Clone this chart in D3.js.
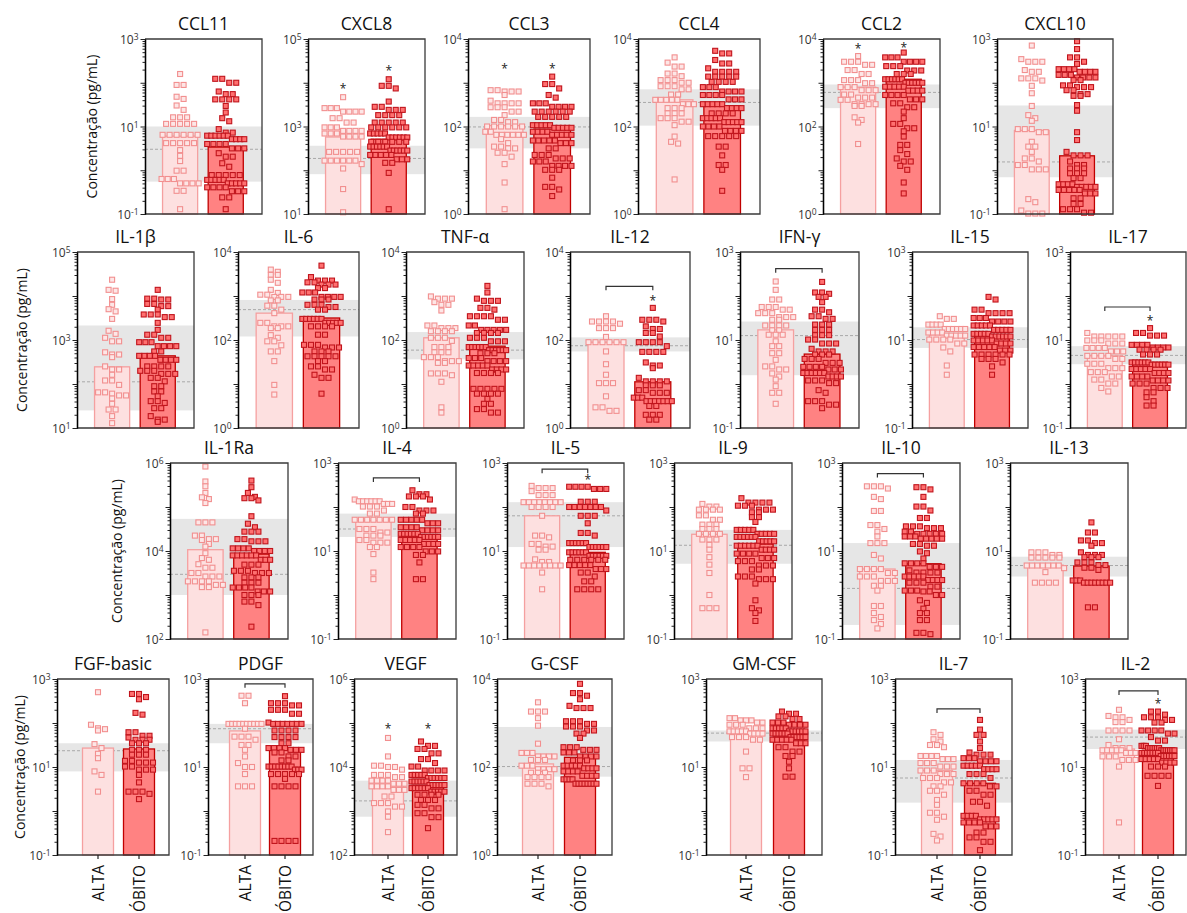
<!DOCTYPE html>
<html><head><meta charset="utf-8">
<script src="https://cdn.jsdelivr.net/npm/d3@7"></script>
<style>body{margin:0;background:#fff}svg{display:block}text{font-family:'Open Sans',sans-serif}</style>
</head><body><svg id="c" width="1187" height="913"></svg>
<script>
// ---- DATA (all concentrations given as log10 pg/mL; points as [log10 value, count]) ----
const panelNames = ["CCL11","CXCL8","CCL3","CCL4","CCL2","CXCL10","IL-1β","IL-6","TNF-α","IL-12","IFN-γ","IL-15","IL-17","IL-1Ra","IL-4","IL-5","IL-9","IL-10","IL-13","FGF-basic","PDGF","VEGF","G-CSF","GM-CSF","IL-7","IL-2"];
const groups = ["ALTA","ÓBITO"];
const decadeLo = [-1,1,0,0,0,-1, 1,0,0,0,-1,-1,-1, 2,-1,-1,-1,-1,-1, -1,-1,2,0,-1,-1,-1];
const decadeHi = [3,5,4,4,4,3, 5,4,4,4,3,3,3, 6,3,3,3,3,3, 3,3,6,4,3,3,3];
const barAlta  = [0.78,2.76,2.02,2.61,2.90,0.91, 2.39,2.61,2.05,1.95,1.23,1.12,0.64, 4.03,1.69,1.80,1.38,0.59,0.68, 1.43,1.82,3.58,2.07,1.76,0.92,1.41];
const barObito = [0.53,2.71,1.94,2.47,3.08,0.33, 2.64,2.50,1.86,1.05,0.68,1.11,0.49, 3.93,1.37,0.97,1.16,0.71,0.66, 1.41,1.43,3.56,2.22,1.68,0.63,1.38];
const refLow    = [-0.26,1.91,1.50,2.02,2.42,-0.16, 1.40,2.08,1.56,1.74,0.20,0.82,0.45, 3.00,1.32,1.09,0.71,-0.68,0.42, 0.90,1.54,2.87,1.78,1.58,0.19,1.41];
const refHigh   = [1.00,2.56,2.22,2.85,2.96,1.48, 3.33,2.91,2.18,2.06,1.42,1.29,0.86, 4.73,1.85,2.11,1.48,1.18,0.87, 1.54,1.98,3.69,2.91,1.83,1.16,1.85];
const refMedian = [0.48,2.27,1.99,2.55,2.78,0.19, 2.05,2.69,1.77,1.87,1.10,1.01,0.65, 3.47,1.50,1.80,1.13,0.15,0.67, 1.37,1.87,3.23,2.01,1.77,0.75,1.68];
const starAlta  = [null,3.90,3.35,null,3.81,null, null,null,null,null,null,null,null, null,null,null,null,null,null, null,null,4.92,null,null,null,null];
const starObito = [null,4.31,3.37,null,3.84,null, null,null,null,2.93,null,null,1.48, null,null,2.66,null,null,null, null,null,4.92,null,null,null,2.47];
const bracketAt = [null,null,null,null,null,null, null,null,null,3.22,2.62,null,1.75, null,2.66,2.86,null,2.76,null, null,2.89,null,null,null,2.32,2.73];

const ccl11_alta=[[2.20,1],[1.95,2],[1.68,1],[1.63,1],[1.48,1],[1.38,1],[1.21,3],[1.06,5],[0.81,6],[0.62,5],[0.46,1],[0.33,1],[0.21,1],[-0.01,2],[-0.20,3],[-0.30,4],[-0.47,2],[-0.89,1]];
const ccl11_obito=[[2.09,2],[2.00,2],[1.80,1],[1.74,2],[1.62,4],[1.47,1],[1.32,1],[1.19,1],[1.12,1],[0.94,1],[0.86,2],[0.79,6],[0.71,4],[0.60,4],[0.50,3],[0.39,1],[0.31,2],[0.16,1],[0.08,1],[-0.11,5],[-0.22,5],[-0.30,5],[-0.39,4],[-0.48,3],[-0.62,2],[-0.89,1]];
const cxcl8_alta=[[3.67,1],[3.42,3],[3.34,4],[3.19,2],[3.09,2],[2.98,3],[2.90,4],[2.84,3],[2.77,4],[2.42,5],[2.22,6],[2.14,1],[2.04,1],[1.57,1],[1.04,1]];
const cxcl8_obito=[[4.08,1],[3.93,2],[3.87,1],[3.57,1],[3.45,2],[3.38,3],[3.26,4],[3.09,5],[2.98,6],[2.84,5],[2.75,6],[2.65,6],[2.54,6],[2.45,6],[2.35,5],[2.25,3],[2.17,2],[1.94,1],[1.11,1]];
const ccl3_alta=[[2.83,2],[2.80,3],[2.72,1],[2.59,1],[2.53,4],[2.44,3],[2.34,2],[2.26,1],[2.15,2],[2.10,2],[2.00,6],[1.88,2],[1.81,6],[1.71,1],[1.62,1],[1.54,2],[1.50,2],[1.40,2],[1.31,1],[1.14,1],[0.72,1],[0.11,1]];
const ccl3_obito=[[3.14,1],[2.97,2],[2.87,1],[2.72,1],[2.66,1],[2.53,3],[2.45,4],[2.34,6],[2.22,5],[2.03,5],[1.97,5],[1.88,4],[1.81,5],[1.68,5],[1.62,3],[1.50,2],[1.35,3],[1.27,3],[1.20,3],[1.10,4],[1.01,3],[0.83,1],[0.62,2],[0.56,1],[0.41,1]];
const ccl4_alta=[[3.58,1],[3.46,1],[3.37,2],[3.21,2],[3.15,1],[3.06,3],[3.00,2],[2.92,3],[2.85,2],[2.73,2],[2.61,5],[2.51,3],[2.42,3],[2.30,3],[2.19,3],[2.11,2],[2.03,1],[1.77,1],[1.65,1],[1.61,1],[0.79,1]];
const ccl4_obito=[[3.73,1],[3.67,2],[3.52,1],[3.44,2],[3.33,1],[3.25,4],[3.14,5],[3.02,4],[2.90,3],[2.80,4],[2.72,4],[2.62,3],[2.51,5],[2.42,4],[2.30,4],[2.19,5],[2.10,5],[2.00,4],[1.90,4],[1.78,5],[1.54,2],[1.34,1],[1.12,2],[1.01,1],[0.53,1]];
const ccl2_alta=[[3.61,1],[3.48,3],[3.41,2],[3.29,2],[3.20,2],[3.06,3],[2.99,2],[2.90,3],[2.83,3],[2.73,2],[2.66,3],[2.61,2],[2.51,4],[2.47,2],[2.21,1],[2.15,1],[2.09,1],[1.60,1]];
const ccl2_obito=[[3.69,1],[3.58,3],[3.48,4],[3.38,3],[3.28,3],[3.20,3],[3.08,6],[3.00,6],[2.91,5],[2.82,4],[2.72,4],[2.62,3],[2.53,2],[2.44,2],[2.34,1],[2.19,1],[2.06,2],[1.96,2],[1.89,1],[1.77,1],[1.58,2],[1.46,1],[1.37,1],[1.27,1],[1.20,2],[1.10,1],[1.01,1],[0.72,1],[0.47,1]];
const cxcl10_alta=[[2.85,1],[2.54,1],[2.48,3],[2.29,1],[2.25,2],[2.10,3],[2.05,1],[1.93,1],[1.76,1],[1.47,1],[1.26,1],[1.19,1],[1.13,1],[0.94,3],[0.87,2],[0.65,1],[0.54,2],[0.42,1],[0.27,2],[0.20,1],[0.12,2],[0.02,3],[-0.66,1],[-0.73,1],[-0.92,1],[-0.99,3]];
const cxcl10_obito=[[2.95,1],[2.77,1],[2.58,2],[2.48,1],[2.43,1],[2.31,4],[2.25,4],[2.18,3],[2.12,4],[2.06,2],[1.94,2],[1.90,3],[1.83,2],[1.74,2],[1.70,2],[1.49,1],[1.36,1],[0.87,1],[0.69,1],[0.42,1],[0.34,3],[0.20,1],[0.12,2],[0.04,3],[-0.07,3],[-0.18,2],[-0.32,4],[-0.38,5],[-0.45,5],[-0.53,3],[-0.64,2],[-0.77,2],[-0.89,3],[-0.97,2]];
const il1b_alta=[[4.37,1],[4.14,1],[4.12,1],[3.93,1],[3.80,1],[3.70,1],[3.65,1],[3.48,1],[3.21,1],[3.14,1],[3.05,1],[2.97,2],[2.72,1],[2.67,2],[2.61,1],[2.40,1],[2.33,2],[2.21,1],[2.08,2],[1.98,1],[1.81,2],[1.78,1],[1.74,2],[1.67,1],[1.55,1],[1.42,2],[1.27,1],[1.11,1]];
const il1b_obito=[[4.14,1],[3.94,2],[3.92,2],[3.82,2],[3.77,2],[3.69,1],[3.58,3],[3.52,2],[3.39,1],[3.23,1],[3.12,2],[3.05,2],[2.95,3],[2.86,4],[2.74,2],[2.64,4],[2.55,4],[2.40,4],[2.30,3],[2.23,3],[2.14,2],[2.06,1],[1.95,2],[1.83,2],[1.72,1],[1.61,2],[1.57,1],[1.45,2],[1.27,1],[1.19,2],[1.14,1]];
const il6_alta=[[3.60,1],[3.55,1],[3.48,2],[3.37,1],[3.30,1],[3.14,1],[3.07,1],[3.03,2],[2.98,3],[2.90,2],[2.78,2],[2.69,1],[2.61,1],[2.39,2],[2.31,3],[2.27,2],[2.11,1],[2.05,1],[1.97,2],[1.88,1],[1.74,2],[1.52,1],[0.98,1],[0.76,1]];
const il6_obito=[[3.69,1],[3.43,1],[3.35,3],[3.31,2],[3.26,3],[3.18,2],[3.08,3],[2.98,4],[2.92,3],[2.80,3],[2.75,2],[2.69,2],[2.48,6],[2.39,5],[2.31,4],[2.12,2],[1.89,3],[1.83,3],[1.74,3],[1.63,5],[1.52,2],[1.40,2],[1.33,2],[1.21,1],[1.14,2],[0.78,1]];
const tnf_alta=[[2.99,1],[2.94,3],[2.86,1],[2.80,2],[2.67,1],[2.33,2],[2.27,3],[2.20,4],[2.05,3],[1.98,1],[1.84,3],[1.72,3],[1.61,3],[1.52,3],[1.48,2],[1.24,3],[1.20,1],[1.05,1],[0.47,1],[0.35,1]];
const tnf_obito=[[3.23,1],[3.08,1],[2.94,1],[2.89,3],[2.73,2],[2.69,1],[2.54,4],[2.46,2],[2.33,2],[2.23,5],[2.16,4],[2.05,3],[1.97,3],[1.84,6],[1.77,6],[1.70,3],[1.59,3],[1.52,4],[1.42,5],[1.33,4],[1.25,4],[0.89,5],[0.78,4],[0.66,1],[0.55,2],[0.43,2],[0.35,2]];
const il12_alta=[[2.54,1],[2.42,4],[2.37,1],[2.27,3],[2.07,1],[1.95,6],[1.74,1],[1.45,1],[1.21,1],[1.02,3],[0.72,1],[0.47,2],[0.39,2]];
const il12_obito=[[2.73,1],[2.46,3],[2.42,1],[2.31,1],[2.25,2],[2.16,2],[2.08,1],[1.95,4],[1.86,1],[1.73,4],[1.49,1],[1.42,2],[1.36,1],[1.14,1],[1.06,4],[0.97,3],[0.86,2],[0.80,3],[0.69,3],[0.61,7],[0.50,2],[0.30,3],[0.19,2]];
const ifng_alta=[[2.33,1],[2.14,1],[1.92,2],[1.75,3],[1.69,2],[1.61,3],[1.52,3],[1.46,2],[1.33,4],[1.22,2],[1.12,3],[0.97,1],[0.86,2],[0.70,2],[0.55,1],[0.40,2],[0.33,2],[0.24,1],[0.17,1],[0.10,1],[-0.05,1],[-0.20,2],[-0.45,1]];
const ifng_obito=[[2.32,1],[2.08,2],[2.05,1],[1.98,2],[1.86,1],[1.69,2],[1.63,1],[1.54,2],[1.48,2],[1.35,3],[1.23,3],[1.11,3],[1.01,2],[0.92,3],[0.80,1],[0.74,3],[0.67,3],[0.57,3],[0.48,3],[0.39,4],[0.33,3],[0.25,6],[0.17,4],[0.08,3],[0.02,2],[-0.14,1],[-0.20,1],[-0.39,3],[-0.47,2],[-0.55,1]];
const il15_alta=[[1.54,1],[1.48,2],[1.35,4],[1.25,6],[1.17,4],[1.10,5],[1.01,4],[0.92,2],[0.83,1],[0.74,1],[0.42,1],[0.21,1]];
const il15_obito=[[1.98,1],[1.92,1],[1.69,2],[1.61,4],[1.50,3],[1.42,4],[1.33,5],[1.23,5],[1.14,5],[1.08,6],[0.99,5],[0.92,4],[0.84,5],[0.76,3],[0.67,6],[0.57,3],[0.49,1],[0.40,1],[0.21,1]];
const il17_alta=[[1.16,1],[1.08,5],[0.99,3],[0.92,3],[0.82,4],[0.74,3],[0.64,4],[0.57,2],[0.46,3],[0.36,3],[0.27,3],[0.17,2],[0.10,2],[0.01,2],[-0.09,1],[-0.17,1]];
const il17_obito=[[1.27,1],[1.16,2],[1.10,3],[0.89,4],[0.83,4],[0.78,4],[0.67,3],[0.49,6],[0.44,6],[0.34,5],[0.25,4],[0.17,4],[0.08,4],[0.01,3],[-0.09,3],[-0.19,2],[-0.30,1],[-0.39,1],[-0.49,2]];
const il1ra_alta=[[5.92,1],[5.58,1],[5.47,1],[5.32,1],[5.22,1],[5.18,1],[5.09,1],[4.65,3],[4.35,2],[4.27,2],[4.25,1],[4.16,1],[4.10,1],[3.95,1],[3.84,1],[3.80,1],[3.70,1],[3.62,2],[3.50,2],[3.42,3],[3.31,4],[3.23,2],[3.18,2],[2.15,1]];
const il1ra_obito=[[5.60,1],[5.45,1],[5.32,1],[5.23,1],[5.20,2],[5.15,1],[4.79,1],[4.62,1],[4.54,1],[4.44,3],[4.27,2],[4.22,3],[4.06,4],[4.00,4],[3.90,6],[3.80,3],[3.69,3],[3.55,3],[3.50,3],[3.40,3],[3.28,3],[3.17,4],[3.08,3],[3.00,3],[2.85,2],[2.77,1],[2.28,1]];
const il4_alta=[[2.17,1],[2.13,6],[2.07,3],[2.01,3],[1.92,1],[1.85,2],[1.71,7],[1.50,3],[1.42,2],[1.35,3],[1.25,2],[1.19,3],[1.09,2],[0.93,1],[0.51,1],[0.36,1]];
const il4_obito=[[2.38,1],[2.29,2],[2.24,3],[2.17,1],[2.00,2],[1.92,3],[1.85,2],[1.71,5],[1.63,3],[1.54,4],[1.47,4],[1.39,6],[1.32,6],[1.25,5],[1.16,4],[1.09,4],[0.99,3],[0.91,2],[0.74,1],[0.36,2]];
const il5_alta=[[2.48,1],[2.43,3],[2.36,1],[2.27,3],[2.11,8],[2.00,4],[1.80,1],[1.35,2],[1.31,1],[1.16,2],[1.10,2],[1.03,2],[0.81,1],[0.75,2],[0.67,8],[0.51,1],[0.13,1]];
const il5_obito=[[2.46,4],[2.41,3],[2.12,3],[2.00,7],[1.92,1],[1.80,3],[1.63,1],[1.41,2],[1.35,1],[1.18,6],[1.09,6],[0.97,6],[0.89,6],[0.80,6],[0.68,5],[0.59,3],[0.51,2],[0.42,1],[0.31,2],[0.13,4]];
const il9_alta=[[2.07,1],[2.01,2],[1.94,4],[1.81,2],[1.71,2],[1.60,3],[1.50,3],[1.39,4],[1.26,3],[1.14,1],[1.03,1],[0.86,1],[0.69,1],[0.50,1],[0.00,1],[-0.30,3]];
const il9_obito=[[2.20,1],[2.10,4],[2.03,3],[1.94,3],[1.88,2],[1.77,2],[1.66,1],[1.48,5],[1.39,5],[1.32,6],[1.22,5],[1.12,6],[1.03,4],[0.94,4],[0.84,3],[0.77,3],[0.67,3],[0.58,2],[0.42,3],[0.36,3],[0.26,1],[-0.12,1],[-0.30,1],[-0.35,1],[-0.41,1],[-0.59,1]];
const il10_alta=[[2.47,3],[2.42,1],[2.23,1],[2.18,1],[1.91,2],[1.59,2],[1.50,1],[1.44,1],[1.33,1],[1.18,3],[0.91,1],[0.83,1],[0.59,4],[0.50,2],[0.42,3],[0.32,3],[0.21,2],[0.10,1],[-0.25,2],[-0.41,1],[-0.50,1],[-0.57,1],[-0.66,1],[-0.76,1]];
const il10_obito=[[2.45,2],[2.40,1],[2.23,1],[2.01,2],[1.92,1],[1.75,2],[1.56,3],[1.52,3],[1.44,2],[1.39,5],[1.33,3],[1.28,5],[1.16,2],[1.12,2],[0.99,1],[0.95,1],[0.83,1],[0.72,4],[0.64,3],[0.56,1],[0.51,4],[0.42,5],[0.34,4],[0.28,3],[0.19,2],[0.10,3],[0.08,2],[0.00,2],[-0.12,1],[-0.18,1],[-0.31,1],[-0.41,2],[-0.57,2],[-0.86,2],[-0.89,1]];
const il13_alta=[[0.97,3],[0.91,2],[0.85,5],[0.67,7],[0.61,1],[0.52,1],[0.28,4]];
const il13_obito=[[1.65,1],[1.42,2],[1.24,2],[1.18,2],[1.12,1],[0.97,1],[0.91,3],[0.86,3],[0.74,3],[0.68,2],[0.62,2],[0.57,1],[0.33,3],[0.28,8],[-0.28,2]];
const fgf_alta=[[2.70,1],[1.96,1],[1.88,1],[1.86,1],[1.83,1],[1.52,1],[1.43,1],[1.30,1],[1.20,1],[0.90,1],[0.82,1],[0.44,1]];
const fgf_obito=[[2.66,2],[2.59,1],[2.54,1],[2.23,1],[2.19,1],[1.79,2],[1.71,2],[1.67,1],[1.62,3],[1.54,3],[1.39,3],[1.28,3],[1.14,2],[1.10,3],[1.01,2],[0.94,3],[0.82,1],[0.65,1],[0.44,3],[0.39,1],[0.27,1]];
const pdgf_alta=[[2.62,2],[2.45,1],[1.98,10],[1.87,1],[1.69,3],[1.62,1],[1.50,2],[1.39,1],[1.24,1],[1.09,1],[1.00,2],[0.84,1],[0.56,3]];
const pdgf_obito=[[2.61,1],[2.45,3],[2.40,2],[2.30,3],[2.21,2],[2.01,1],[1.98,7],[1.83,4],[1.68,4],[1.54,2],[1.43,4],[1.39,3],[1.33,2],[1.24,2],[1.15,2],[1.01,8],[0.94,3],[0.84,5],[0.73,1],[0.56,4],[-0.68,4]];
const vegf_alta=[[4.66,1],[4.24,1],[4.03,2],[4.00,2],[3.94,1],[3.82,3],[3.77,2],[3.69,4],[3.62,3],[3.56,4],[3.48,3],[3.33,2],[3.18,3],[3.10,2],[2.99,1],[2.87,1],[2.52,1]];
const vegf_obito=[[4.58,1],[4.48,2],[4.41,2],[4.31,2],[4.18,2],[4.09,1],[4.01,2],[3.92,4],[3.82,5],[3.75,6],[3.67,6],[3.59,6],[3.52,6],[3.44,5],[3.37,4],[3.25,3],[3.14,2],[3.06,2],[2.95,2],[2.86,2],[2.61,1]];
const gcsf_alta=[[3.47,1],[3.26,3],[3.11,1],[2.94,1],[2.53,1],[2.32,3],[2.24,4],[2.16,3],[2.03,3],[1.95,4],[1.87,3],[1.77,4],[1.62,3],[1.56,1]];
const gcsf_obito=[[3.89,1],[3.68,2],[3.62,1],[3.54,1],[3.39,1],[3.34,3],[3.04,3],[2.98,2],[2.92,3],[2.83,2],[2.76,2],[2.66,1],[2.45,3],[2.39,3],[2.33,3],[2.24,4],[2.15,3],[2.03,5],[1.97,4],[1.90,4],[1.80,4],[1.72,4],[1.62,8]];
const gmcsf_alta=[[2.11,2],[2.06,3],[2.01,2],[1.96,3],[1.88,3],[1.81,5],[1.76,4],[1.68,3],[1.62,2],[1.35,1],[0.97,2],[0.77,1]];
const gmcsf_obito=[[2.26,1],[2.21,2],[2.15,2],[2.09,2],[2.01,3],[1.96,4],[1.88,5],[1.81,6],[1.76,6],[1.68,6],[1.62,5],[1.54,3],[1.45,2],[1.35,2],[1.25,2],[1.12,1],[0.97,1],[0.78,2]];
const il7_alta=[[1.79,1],[1.73,1],[1.63,1],[1.58,1],[1.50,2],[1.45,1],[1.25,4],[1.18,3],[1.09,3],[1.01,3],[0.92,3],[0.84,3],[0.75,3],[0.65,2],[0.56,2],[0.46,2],[0.37,1],[0.25,1],[0.14,1],[-0.04,2],[-0.13,1],[-0.20,1],[-0.52,1],[-0.58,1],[-0.67,1]];
const il7_obito=[[2.07,1],[1.85,1],[1.73,2],[1.58,1],[1.43,1],[1.33,1],[1.28,3],[1.20,3],[1.13,4],[1.03,5],[0.95,4],[0.84,3],[0.75,1],[0.63,4],[0.56,2],[0.46,2],[0.37,2],[0.21,2],[0.12,1],[-0.11,4],[-0.19,5],[-0.26,4],[-0.35,3],[-0.49,2],[-0.60,2],[-0.70,2],[-0.89,1]];
const il2_alta=[[2.30,1],[2.16,1],[2.13,2],[2.07,1],[2.02,2],[1.83,4],[1.63,1],[1.50,1],[1.43,3],[1.38,5],[1.32,3],[1.24,3],[1.16,3],[1.01,1],[-0.26,1]];
const il2_obito=[[2.26,2],[2.19,1],[2.13,3],[2.07,2],[2.01,2],[1.83,4],[1.76,2],[1.68,1],[1.60,2],[1.48,3],[1.43,6],[1.38,7],[1.32,7],[1.25,6],[1.18,5],[1.10,4],[1.01,3],[0.80,4],[0.57,1]];

const altaPoints = [ccl11_alta,cxcl8_alta,ccl3_alta,ccl4_alta,ccl2_alta,cxcl10_alta,il1b_alta,il6_alta,tnf_alta,il12_alta,ifng_alta,il15_alta,il17_alta,il1ra_alta,il4_alta,il5_alta,il9_alta,il10_alta,il13_alta,fgf_alta,pdgf_alta,vegf_alta,gcsf_alta,gmcsf_alta,il7_alta,il2_alta];
const obitoPoints = [ccl11_obito,cxcl8_obito,ccl3_obito,ccl4_obito,ccl2_obito,cxcl10_obito,il1b_obito,il6_obito,tnf_obito,il12_obito,ifng_obito,il15_obito,il17_obito,il1ra_obito,il4_obito,il5_obito,il9_obito,il10_obito,il13_obito,fgf_obito,pdgf_obito,vegf_obito,gcsf_obito,gmcsf_obito,il7_obito,il2_obito];

// ---- LAYOUT ----
const rowTB = [[39,214],[252,428],[463,639],[679,855]];
const rowLabelX = [92,22,117,20];
// [x0, x1, row, centre ALTA, centre ÓBITO, bar width]
const boxes = [[145,262,0],[308,425,0],[468,590,0],[638,760,0],[823,940,0],[997,1113,0],
  [77,194,1],[238,359,1],[406,524,1],[570,690,1],[740,859,1],[912,1028,1],[1070,1186,1],
  [170,288,2],[338,456,2],[507,624,2],[674,792,2],[842,960,2],[1010,1128,2],
  [57,169,3,98,139,31],[208,313,3,245,285,31],[354,457,3,388,428,31],[497,612,3,538,580,31],
  [706,822,3,746,789,31],[895,1012,3,937,980,31],[1085,1186,3,1119,1158,31]];

const C = {altaFill:"#fde0e0", altaStroke:"#f5a0a0", altaPtFill:"#fde6e6", altaPtStroke:"#f28f8f",
  obFill:"#ff8282", obStroke:"#c00000", obPtFill:"#ff7070", obPtStroke:"#c0141c", band:"#e6e6e6"};

const svg = d3.select("#c");
const P = v => Math.pow(10, v);
const expand = arr => arr.flatMap(([v,n]) => d3.range(n).map(() => v));

// row-binned scatter layout (points sharing a ~marker-high band are spread side by side)
function swarm(vals, y, sx, sy, maxSpan){
  const items = vals.map(v => ({v, y: y(P(v))})).sort((a,b)=>a.y-b.y);
  const bins = []; let cur = null;
  for (const it of items){
    if (!cur || it.y - cur.y0 > sy){ cur = {y0: it.y, pts: []}; bins.push(cur); }
    cur.pts.push(it);
  }
  bins.forEach(b => {
    const n = b.pts.length;
    const step = n > 1 ? Math.min(sx, maxSpan / (n - 1)) : 0;
    b.pts.forEach((p, j) => p.x = (j - (n - 1) / 2) * step);
  });
  return items;
}

panelNames.forEach((name, i) => {
  const [x0, x1, r, ca, co, bwRow4] = boxes[i];
  const [top, bottom] = rowTB[r];
  const w = x1 - x0;
  const g = svg.append("g");
  const y = d3.scaleLog().domain([P(decadeLo[i]), P(decadeHi[i])]).range([bottom, top]);
  const cx = ca !== undefined ? [ca, co] : [x0 + 0.30*w, x0 + 0.69*w];
  const bw = bwRow4 !== undefined ? bwRow4 : 0.30*w;

  g.append("rect").attr("x", x0).attr("width", w).attr("y", y(P(refHigh[i]))).attr("height", y(P(refLow[i])) - y(P(refHigh[i]))).attr("fill", C.band);
  g.append("line").attr("x1", x0).attr("x2", x1).attr("y1", y(P(refMedian[i]))).attr("y2", y(P(refMedian[i])))
    .attr("stroke", "#a8a8a8").attr("stroke-width", 1).attr("stroke-dasharray", "3,2");

  const bars = [barAlta[i], barObito[i]];
  const fills = [C.altaFill, C.obFill], strokes = [C.altaStroke, C.obStroke];
  bars.forEach((b, k) => {
    g.append("rect").attr("x", cx[k]-bw/2).attr("width", bw).attr("y", y(P(b))).attr("height", bottom - y(P(b)))
      .attr("fill", fills[k]).attr("stroke", strokes[k]).attr("stroke-width", 1.3);
  });

  const sets = [altaPoints[i], obitoPoints[i]];
  const pf = [C.altaPtFill, C.obPtFill], ps = [C.altaPtStroke, C.obPtStroke];
  sets.forEach((set, k) => {
    const items = swarm(expand(set), y, 7, 4.4, bw + 2);
    g.append("g").selectAll("rect").data(items).join("rect")
      .attr("x", d => cx[k] + d.x - 2.5).attr("y", d => d.y - 2.5).attr("width", 5).attr("height", 5)
      .attr("fill", pf[k]).attr("stroke", ps[k]).attr("stroke-width", 1.1);
  });

  g.append("path").attr("d", `M${x0},${top}H${x1}V${bottom}H${x0}`).attr("fill", "none").attr("stroke", "#3a3a3a").attr("stroke-width", 1.3);

  const minor = [];
  for (let e = decadeLo[i]; e < decadeHi[i]; e++) for (let m = 2; m <= 9; m++) minor.push(m * P(e));
  const majors = d3.range(decadeLo[i], decadeHi[i] + 1).map(P);
  const ax = g.append("g").attr("transform", `translate(${x0},0)`);
  ax.call(d3.axisLeft(y).tickValues(minor).tickSize(2.5).tickSizeOuter(0).tickFormat(""));
  const axM = g.append("g").attr("transform", `translate(${x0},0)`);
  axM.call(d3.axisLeft(y).tickValues(majors).tickSize(4.5).tickSizeOuter(0).tickPadding(2).tickFormat(""));
  [ax, axM].forEach(a => { a.select(".domain").attr("stroke", "#000").attr("stroke-width", 1.3); a.selectAll(".tick line").attr("stroke", "#222"); });
  axM.selectAll(".tick").each(function(d){
    const e = Math.round(Math.log10(d));
    if ((e - decadeLo[i]) % 2 !== 0) return;
    const t = d3.select(this).select("text").attr("font-size", 12).attr("fill", "#333").attr("font-family", "'Open Sans',sans-serif").attr("dy", "0.4em");
    t.text("10");
    t.append("tspan").attr("dy", "-0.5em").attr("font-size", 8.5).text(e < 0 ? "-" + (-e) : e);
  });

  svg.append("text").attr("x", (x0 + x1) / 2).attr("y", top - 9).attr("text-anchor", "middle").attr("font-size", 17.5).attr("fill", "#111").text(name);

  const sa = [starAlta[i], starObito[i]];
  sa.forEach((s, k) => { if (s !== null) g.append("text").attr("x", cx[k]).attr("y", y(P(s)) + 6).attr("text-anchor", "middle").attr("font-size", 12).attr("fill", "#222").text("*"); });
  if (bracketAt[i] !== null) {
    const by = y(P(bracketAt[i]));
    g.append("path").attr("d", `M${cx[0]},${by+4}V${by}H${cx[1]}V${by+4}`).attr("fill", "none").attr("stroke", "#333").attr("stroke-width", 1.2);
  }

  if (r === 3) {
    cx.forEach((c, k) => {
      g.append("line").attr("x1", c).attr("x2", c).attr("y1", bottom).attr("y2", bottom + 4).attr("stroke", "#222").attr("stroke-width", 1.2);
      g.append("text").attr("transform", `translate(${c + 5.5},${bottom + 10}) rotate(-90)`).attr("text-anchor", "end")
        .attr("font-size", 15.5).attr("fill", "#111").text(groups[k]);
    });
  }
});

rowTB.forEach(([t, b], r) => {
  svg.append("text").attr("transform", `translate(${rowLabelX[r] + 5},${(t + b) / 2}) rotate(-90)`).attr("text-anchor", "middle")
    .attr("font-size", 14).attr("fill", "#111").text("Concentração (pg/mL)");
});
</script></body></html>
